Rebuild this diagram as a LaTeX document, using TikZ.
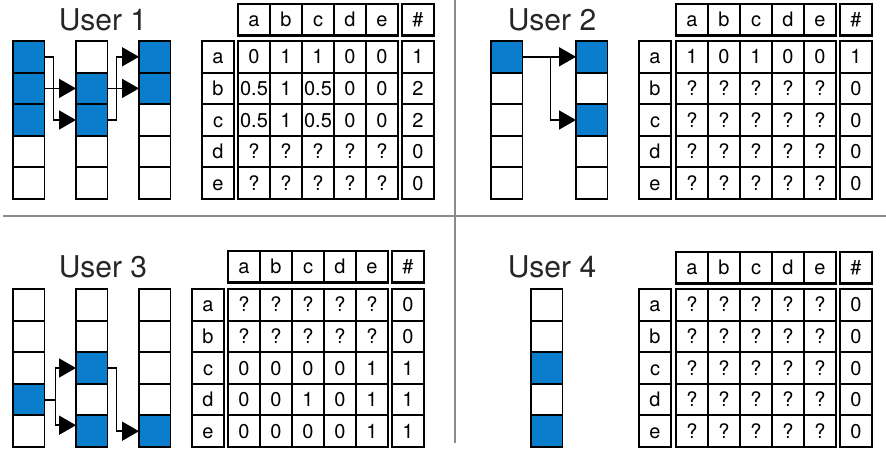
\documentclass[tikz,border=0pt]{standalone}
\usepackage{fontspec}
\setmainfont{TeX Gyre Heros}
\usetikzlibrary{arrows.meta,calc}
\definecolor{cellblue}{HTML}{0A7DCC}
\definecolor{divgray}{HTML}{8A8A8A}
\tikzset{
  cellbox/.style={draw=black, line width=1.9pt, minimum width=31.5pt, minimum height=31.6pt, inner sep=0pt, outer sep=0pt, anchor=north west},
  tcell/.style={draw=black, line width=1.9pt, minimum width=32pt, minimum height=31.6pt, inner sep=0pt, outer sep=0pt, anchor=north west, font=\fontsize{20}{20}\selectfont, text height=14.2pt, text depth=0pt},
  grp/.style={draw=black, line width=2.3pt},
  conn/.style={draw=black, line width=1.8pt},
  arr/.style={conn, -{Triangle[length=17pt,width=19pt]}},
  usertitle/.style={font=\fontsize{30}{30}\selectfont, anchor=base, inner sep=0pt, text=black!85},
  divider/.style={draw=divgray, line width=2pt}
}
\newcommand\cellcolumn[4]{%
  \foreach \f [count=\k] in {#4} {%
    \node[cellbox, fill=\f] (#1\k) at (#2,{#3+(\k-1)*31.6}) {};
  }%
}
\newcommand\datatable[8]{%
  \foreach \h [count=\c] in {a,b,c,d,e} {\node[tcell] (#1h\c) at ({#3+(\c-1)*32},#5) {\h};}%
  \node[tcell] (#1hh) at (#4,#5) {\#};%
  \foreach \l [count=\r] in {a,b,c,d,e} {\node[tcell] (#1l\r) at (#2,{#6+(\r-1)*31.6}) {\l};}%
  \foreach \rowv [count=\r] in {#7} {%
    \foreach \v [count=\c] in \rowv {%
      \node[tcell] (#1d\r-\c) at ({#3+(\c-1)*32},{#6+(\r-1)*31.6}) {\v};%
    }%
  }%
  \foreach \v [count=\r] in {#8} {\node[tcell] (#1s\r) at (#4,{#6+(\r-1)*31.6}) {\v};}%
  \draw[grp] (#1h1.north west) rectangle (#1h5.south east);%
  \draw[grp] (#1hh.north west) rectangle (#1hh.south east);%
  \draw[grp] (#1l1.north west) rectangle (#1l5.south east);%
  \draw[grp] (#1d1-1.north west) rectangle (#1d5-5.south east);%
  \draw[grp] (#1s1.north west) rectangle (#1s5.south east);%
}
\begin{document}
\begin{tikzpicture}[x=1pt,y=-1pt]
\useasboundingbox (0,0) rectangle (886,451);
% dividers
\coordinate (vtop) at (455,0);
\coordinate (vbot) at (455,443);
\coordinate (hleft) at (3,215.7);
\coordinate (hright) at (886,215.7);
\draw[divider] (vtop) -- (vbot);
\draw[divider] (hleft) -- (hright);

% titles
\node[usertitle] (t1) at (103,30) {User 1};
\node[usertitle] (t2) at (552,30) {User 2};
\node[usertitle] (t3) at (103,277) {User 3};
\node[usertitle] (t4) at (552,277) {User 4};

% User 1 columns
\cellcolumn{u1a}{13}{41}{cellblue,cellblue,cellblue,white,white}
\cellcolumn{u1b}{76}{41}{white,cellblue,cellblue,white,white}
\cellcolumn{u1c}{139}{41}{cellblue,cellblue,white,white,white}
\draw[arr] (u1a1.east) -- ++(9,0) |- (u1b3.west);
\draw[arr] (u1a2.east) -- (u1b2.west);
\draw[arr] (u1b3.east) -- ++(9,0) |- (u1c1.west);
\draw[arr] (u1b2.east) -- (u1c2.west);

% User 2 columns
\cellcolumn{u2a}{491}{41}{cellblue,white,white,white,white}
\cellcolumn{u2b}{576}{41}{cellblue,white,cellblue,white,white}
\draw[arr] (u2a1.east) -- (u2b1.west);
\draw[arr] (u2a1.east) -- ++(28,0) |- (u2b3.west);

% User 3 columns
\cellcolumn{u3a}{13}{289}{white,white,white,cellblue,white}
\cellcolumn{u3b}{76}{289}{white,white,cellblue,white,cellblue}
\cellcolumn{u3c}{139}{289}{white,white,white,white,cellblue}
\draw[arr] (u3a4.east) -- ++(11,0) |- (u3b3.west);
\draw[arr] (u3a4.east) -- ++(11,0) |- ([yshift=6pt]u3b5.west);
\draw[arr] (u3b3.east) -- ++(9,0) |- (u3c5.west);

% User 4 column
\cellcolumn{u4a}{531}{289}{white,white,cellblue,white,cellblue}

% tables
\datatable{ta}{202}{238}{402}{4}{41}{{0,1,1,0,0},{0.5,1,0.5,0,0},{0.5,1,0.5,0,0},{?,?,?,?,?},{?,?,?,?,?}}{1,2,2,0,0}
\datatable{tb}{639}{676}{840}{4}{41}{{1,0,1,0,0},{?,?,?,?,?},{?,?,?,?,?},{?,?,?,?,?},{?,?,?,?,?}}{1,0,0,0,0}
\datatable{tc}{192}{228}{392}{251}{289}{{?,?,?,?,?},{?,?,?,?,?},{0,0,0,0,1},{0,0,1,0,1},{0,0,0,0,1}}{0,0,1,1,1}
\datatable{td}{639}{676}{840}{252}{289}{{?,?,?,?,?},{?,?,?,?,?},{?,?,?,?,?},{?,?,?,?,?},{?,?,?,?,?}}{0,0,0,0,0}
\end{tikzpicture}
\end{document}
